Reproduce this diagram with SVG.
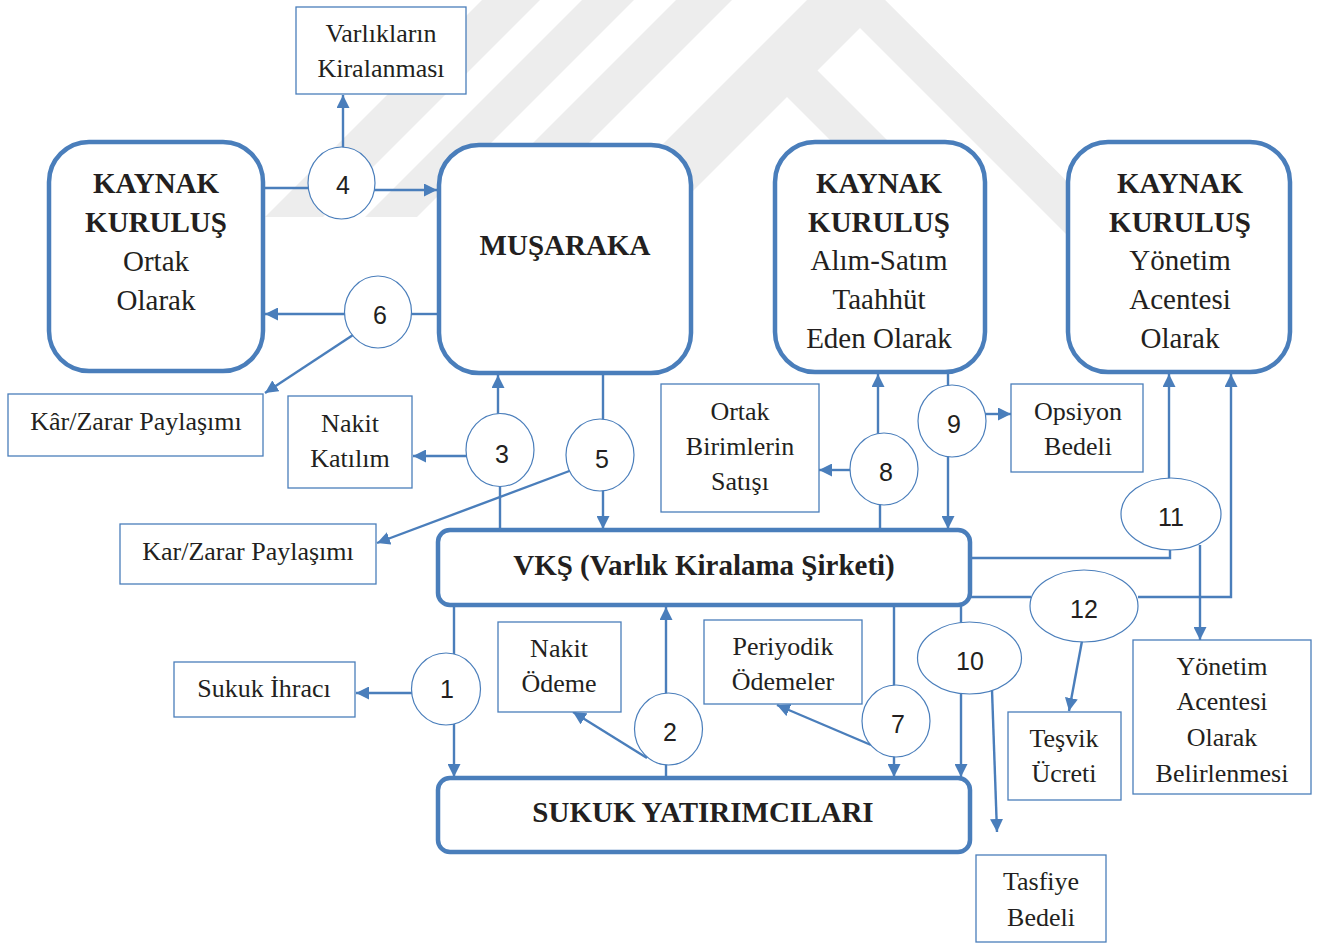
<svg xmlns="http://www.w3.org/2000/svg" width="1327" height="945" viewBox="0 0 1327 945">
  <style>
    .main { fill: #ffffff; stroke: #4a7ebb; stroke-width: 4.5; }
    .lbl { fill: #ffffff; stroke: #4a7ebb; stroke-width: 1.3; }
    .oval { fill: #ffffff; stroke: #4a7ebb; stroke-width: 1.2; }
    .wire { fill: none; stroke: #4a7ebb; stroke-width: 2.4; }
    .arw { fill: none; stroke: #4a7ebb; stroke-width: 2.4; marker-end: url(#ah); }
    .bt { font-family: "Liberation Serif", "Times New Roman", serif; font-size: 29px; font-weight: bold; fill: #231f20; text-anchor: middle; }
    .rt { font-family: "Liberation Serif", "Times New Roman", serif; font-size: 29px; fill: #231f20; text-anchor: middle; }
    .lt { font-family: "Liberation Serif", "Times New Roman", serif; font-size: 26px; fill: #231f20; text-anchor: middle; }
    .num { font-family: "Liberation Sans", Arial, sans-serif; font-size: 25px; fill: #231f20; text-anchor: middle; }
    .wm { fill: #ededed; }
  </style>
  <defs>
    <marker id="ah" viewBox="0 0 12 12" refX="12" refY="6" markerWidth="13" markerHeight="13" markerUnits="userSpaceOnUse" orient="auto">
      <path d="M0,0 L12,6 L0,12 z" fill="#4a7ebb"/>
    </marker>
  </defs>

  <rect width="1327" height="945" fill="#ffffff"/>

  <!-- faint background emblem -->
  <g id="emblem">
    <polygon class="wm" points="482,0 540,0 323,217 265,217"/>
    <polygon class="wm" points="582,0 634,0 417,217 365,217"/>
    <polygon class="wm" points="676,0 732,0 532,200 476,200"/>
    <polygon class="wm" points="557,250 846,-39 1186,300 1132,300 860,28 817.5,70.5 977,230 920,230 787,97 634,250"/>
  </g>

  <!-- connectors -->
  <g id="connectors">
    <!-- 4 -->
    <line class="wire" x1="262" y1="188" x2="310" y2="188"/>
    <line class="arw" x1="374" y1="190" x2="437" y2="190"/>
    <line class="arw" x1="343" y1="148" x2="343" y2="95"/>
    <!-- 6 -->
    <line class="wire" x1="437" y1="314" x2="410" y2="314"/>
    <line class="arw" x1="346" y1="314" x2="265" y2="314"/>
    <line class="arw" x1="353" y1="335" x2="265" y2="393"/>
    <!-- 3 -->
    <line class="arw" x1="498" y1="414" x2="498" y2="375"/>
    <line class="wire" x1="500" y1="486" x2="500" y2="530"/>
    <line class="arw" x1="467" y1="456" x2="413" y2="456"/>
    <!-- 5 -->
    <line class="wire" x1="603" y1="373" x2="603" y2="420"/>
    <line class="arw" x1="603" y1="490" x2="603" y2="529"/>
    <line class="arw" x1="572" y1="470" x2="377" y2="543"/>
    <!-- 8 -->
    <line class="arw" x1="878" y1="434" x2="878" y2="374"/>
    <line class="wire" x1="880" y1="504" x2="880" y2="530"/>
    <line class="arw" x1="851" y1="470" x2="819" y2="470"/>
    <!-- 9 -->
    <line class="wire" x1="948" y1="372" x2="948" y2="386"/>
    <line class="arw" x1="948" y1="456" x2="948" y2="529"/>
    <line class="arw" x1="985" y1="414" x2="1011" y2="414"/>
    <!-- 11 -->
    <polyline class="wire" points="970,558 1170,558 1170,549"/>
    <line class="arw" x1="1169" y1="479" x2="1169" y2="374"/>
    <line class="arw" x1="1200" y1="545" x2="1200" y2="640"/>
    <!-- 12 -->
    <line class="wire" x1="970" y1="597" x2="1031" y2="597"/>
    <polyline class="arw" points="1138,597 1231,597 1231,374"/>
    <line class="arw" x1="1082" y1="641" x2="1069" y2="711"/>
    <!-- 10 -->
    <line class="wire" x1="961" y1="605" x2="961" y2="623"/>
    <line class="arw" x1="961" y1="693" x2="961" y2="777"/>
    <line class="arw" x1="992" y1="690" x2="997" y2="832"/>
    <!-- 1 -->
    <line class="wire" x1="454" y1="605" x2="454" y2="654"/>
    <line class="arw" x1="454" y1="724" x2="454" y2="777"/>
    <line class="arw" x1="412" y1="693" x2="356" y2="693"/>
    <!-- 2 -->
    <line class="wire" x1="666" y1="778" x2="666" y2="764"/>
    <line class="arw" x1="666" y1="694" x2="666" y2="607"/>
    <line class="arw" x1="647" y1="758" x2="573" y2="712"/>
    <!-- 7 -->
    <line class="wire" x1="894" y1="605" x2="894" y2="686"/>
    <line class="arw" x1="894" y1="756" x2="894" y2="777"/>
    <line class="arw" x1="871" y1="745" x2="777" y2="705"/>
  </g>

  <!-- main parties -->
  <g id="kaynak-ortak">
    <rect class="main" x="49" y="142" width="214" height="229" rx="40"/>
    <text class="bt" x="156" y="193">KAYNAK</text>
    <text class="bt" x="156" y="232">KURULUŞ</text>
    <text class="rt" x="156" y="271">Ortak</text>
    <text class="rt" x="156" y="310">Olarak</text>
  </g>
  <g id="musaraka">
    <rect class="main" x="439" y="145" width="252" height="228" rx="40"/>
    <text class="bt" x="565" y="255">MUŞARAKA</text>
  </g>
  <g id="kaynak-alim-satim">
    <rect class="main" x="775" y="142" width="210" height="230" rx="40"/>
    <text class="bt" x="879" y="193">KAYNAK</text>
    <text class="bt" x="879" y="232">KURULUŞ</text>
    <text class="rt" x="879" y="270">Alım-Satım</text>
    <text class="rt" x="879" y="309">Taahhüt</text>
    <text class="rt" x="879" y="348">Eden Olarak</text>
  </g>
  <g id="kaynak-yonetim">
    <rect class="main" x="1068" y="142" width="222" height="230" rx="40"/>
    <text class="bt" x="1180" y="193">KAYNAK</text>
    <text class="bt" x="1180" y="232">KURULUŞ</text>
    <text class="rt" x="1180" y="270">Yönetim</text>
    <text class="rt" x="1180" y="309">Acentesi</text>
    <text class="rt" x="1180" y="348">Olarak</text>
  </g>
  <g id="vks">
    <rect class="main" x="438" y="530" width="532" height="75" rx="12"/>
    <text class="bt" x="704" y="575">VKŞ (Varlık Kiralama Şirketi)</text>
  </g>
  <g id="sukuk-yatirimcilari">
    <rect class="main" x="438" y="778" width="532" height="74" rx="12"/>
    <text class="bt" x="703" y="822">SUKUK YATIRIMCILARI</text>
  </g>

  <!-- flow labels -->
  <g id="varliklarin-kiralanmasi">
    <rect class="lbl" x="296" y="7" width="170" height="87"/>
    <text class="lt" x="381" y="42">Varlıkların</text>
    <text class="lt" x="381" y="77">Kiralanması</text>
  </g>
  <g id="kar-zarar-1">
    <rect class="lbl" x="8" y="394" width="255" height="62"/>
    <text class="lt" x="136" y="430">Kâr/Zarar Paylaşımı</text>
  </g>
  <g id="nakit-katilim">
    <rect class="lbl" x="288" y="396" width="124" height="92"/>
    <text class="lt" x="350" y="432">Nakit</text>
    <text class="lt" x="350" y="467">Katılım</text>
  </g>
  <g id="kar-zarar-2">
    <rect class="lbl" x="120" y="524" width="256" height="60"/>
    <text class="lt" x="248" y="560">Kar/Zarar Paylaşımı</text>
  </g>
  <g id="ortak-birimler">
    <rect class="lbl" x="661" y="384" width="158" height="128"/>
    <text class="lt" x="740" y="420">Ortak</text>
    <text class="lt" x="740" y="455">Birimlerin</text>
    <text class="lt" x="740" y="490">Satışı</text>
  </g>
  <g id="opsiyon-bedeli">
    <rect class="lbl" x="1011" y="384" width="132" height="88"/>
    <text class="lt" x="1078" y="420">Opsiyon</text>
    <text class="lt" x="1078" y="455">Bedeli</text>
  </g>
  <g id="sukuk-ihraci">
    <rect class="lbl" x="174" y="662" width="181" height="55"/>
    <text class="lt" x="264" y="697">Sukuk İhracı</text>
  </g>
  <g id="nakit-odeme">
    <rect class="lbl" x="498" y="622" width="123" height="90"/>
    <text class="lt" x="559" y="657">Nakit</text>
    <text class="lt" x="559" y="692">Ödeme</text>
  </g>
  <g id="periyodik-odemeler">
    <rect class="lbl" x="704" y="620" width="158" height="84"/>
    <text class="lt" x="783" y="655">Periyodik</text>
    <text class="lt" x="783" y="690">Ödemeler</text>
  </g>
  <g id="tesvik-ucreti">
    <rect class="lbl" x="1008" y="712" width="113" height="88"/>
    <text class="lt" x="1064" y="747">Teşvik</text>
    <text class="lt" x="1064" y="782">Ücreti</text>
  </g>
  <g id="yonetim-acentesi-belirlenmesi">
    <rect class="lbl" x="1133" y="640" width="178" height="154"/>
    <text class="lt" x="1222" y="675">Yönetim</text>
    <text class="lt" x="1222" y="710">Acentesi</text>
    <text class="lt" x="1222" y="746">Olarak</text>
    <text class="lt" x="1222" y="782">Belirlenmesi</text>
  </g>
  <g id="tasfiye-bedeli">
    <rect class="lbl" x="976" y="855" width="130" height="87"/>
    <text class="lt" x="1041" y="890">Tasfiye</text>
    <text class="lt" x="1041" y="926">Bedeli</text>
  </g>

  <!-- numbered steps -->
  <g id="step-1"><ellipse class="oval" cx="446" cy="689" rx="34.5" ry="36"/><text class="num" x="447" y="698">1</text></g>
  <g id="step-2"><ellipse class="oval" cx="668.5" cy="729" rx="34" ry="36"/><text class="num" x="670" y="741">2</text></g>
  <g id="step-3"><ellipse class="oval" cx="500" cy="450" rx="34" ry="36.5"/><text class="num" x="502" y="463">3</text></g>
  <g id="step-4"><ellipse class="oval" cx="341.5" cy="183" rx="33.5" ry="36"/><text class="num" x="343" y="194">4</text></g>
  <g id="step-5"><ellipse class="oval" cx="600" cy="455" rx="34" ry="36"/><text class="num" x="602" y="468">5</text></g>
  <g id="step-6"><ellipse class="oval" cx="378" cy="312" rx="33.5" ry="36"/><text class="num" x="380" y="324">6</text></g>
  <g id="step-7"><ellipse class="oval" cx="896" cy="721" rx="34" ry="36"/><text class="num" x="898" y="733">7</text></g>
  <g id="step-8"><ellipse class="oval" cx="884" cy="469" rx="34" ry="36"/><text class="num" x="886" y="481">8</text></g>
  <g id="step-9"><ellipse class="oval" cx="952" cy="421" rx="34" ry="36"/><text class="num" x="954" y="433">9</text></g>
  <g id="step-10"><ellipse class="oval" cx="969.5" cy="658" rx="52" ry="36"/><text class="num" x="970" y="670">10</text></g>
  <g id="step-11"><ellipse class="oval" cx="1171" cy="514" rx="50" ry="36"/><text class="num" x="1171" y="526">11</text></g>
  <g id="step-12"><ellipse class="oval" cx="1084" cy="606" rx="54" ry="36"/><text class="num" x="1084" y="618">12</text></g>
</svg>
